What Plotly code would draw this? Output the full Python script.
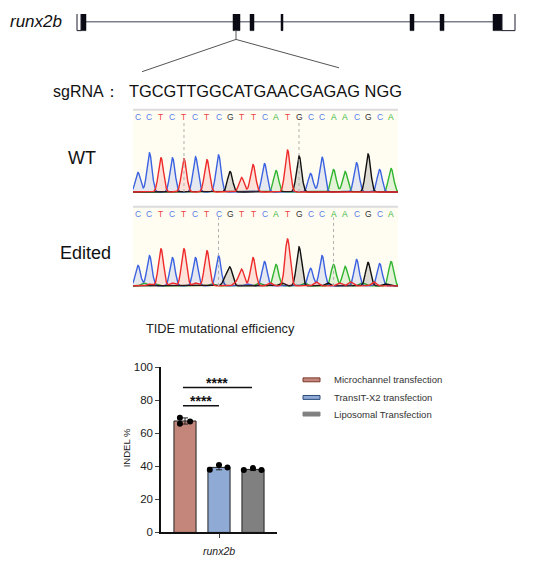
import numpy as np
import plotly.graph_objects as go

# gene structure (x in pixel-like units along the locus)
gene_name = "runx2b"
intron_span = [81, 502]
exons = [[81, 86], [233, 240], [250, 254], [281, 283], [410, 414], [440, 444], [493, 502]]
utrs = [[77, 81], [502, 515]]
target_exon = 236
sgrna = "TGCGTTGGCATGAACGAGAG NGG"

# chromatogram reads
bases = "CCTCTCTCGTTCATGCCAACGCA"
wt_heights = [20, 40, 35, 35, 34, 36, 33, 38, 21, 15, 28, 29, 22, 43, 37, 19, 36, 23, 21, 30, 39, 23, 24]
ed_heights = [21, 31, 38, 29, 38, 29, 36, 31, 18, 17, 29, 25, 22, 48, 40, 18, 31, 22, 20, 27, 24, 23, 25]
ed_secondary = [(0.5, "A", 3), (1.5, "A", 2), (1.0, "T", 2), (3.0, "T", 3), (5.0, "T", 3),
                (6.4, "A", 2), (7.6, "G", 7), (8.5, "T", 3), (9.5, "C", 2), (10.5, "A", 3),
                (11.5, "T", 3), (12.5, "G", 3), (14.5, "A", 3), (15.5, "T", 4), (16.5, "G", 3),
                (17.5, "T", 3), (18.5, "T", 4), (19.5, "A", 3), (20.5, "T", 4), (21.5, "G", 2)]
wt_marks = [4, 14]
ed_marks = [7, 17]

# TIDE efficiency
groups = ["Microchannel transfection", "TransIT-X2 transfection", "Liposomal Transfection"]
indel_points = [[69.4, 65.7, 67.1], [37.9, 40.8, 39.3], [37.7, 38.9, 37.7]]

base_col = {"A": "#2fb52f", "C": "#3b62e0", "G": "#111111", "T": "#ee2b2b"}
base_fill = {"A": "rgba(47,181,47,0.13)", "C": "rgba(59,98,224,0.13)",
             "G": "rgba(0,0,0,0.13)", "T": "rgba(238,43,43,0.12)"}
letter_col = {"A": "#39b839", "C": "#5b7fe8", "G": "#333333", "T": "#ee4040"}
bar_cols = ["#c4867b", "#8eaad5", "#808080"]
leg_lines = ["#7a3a30", "#2c4a7a", "#808080"]
FONT = "Arial, Liberation Sans, sans-serif"

# page has an 8px body margin, so the figure is shrunk and shifted to line up
OX, OY = 8, 8
W, H = 534, 549


def px(p):
    return (p - OX) / W


def py(p):
    return 1 - (p - OY) / H


def label(x, y, text, size, xanchor="center", color="#111", **kw):
    return dict(xref="paper", yref="paper", x=px(x), y=py(y), text=text, showarrow=False,
                xanchor=xanchor, yanchor="middle", font=dict(size=size, color=color, family=FONT), **kw)


fig = go.Figure()

# ---- chromatograms ----
xs = np.linspace(-0.45, 22.6, 1400)
sig = 0.22


def add_read(heights, extra, xa, ya):
    for b in "ACGT":
        y = np.zeros_like(xs)
        for i, ch in enumerate(bases):
            if ch == b:
                y += heights[i] * np.exp(-0.5 * ((xs - i) / sig) ** 2)
        for pos, ch, h in extra:
            if ch == b:
                y += h * np.exp(-0.5 * ((xs - pos) / sig) ** 2)
        fig.add_trace(go.Scatter(x=xs, y=y, mode="lines", line=dict(color=base_col[b], width=1.4),
                                 fill="tozeroy", fillcolor=base_fill[b], hoverinfo="skip",
                                 showlegend=False, xaxis=xa, yaxis=ya))


add_read(wt_heights, [], "x2", "y2")
add_read(ed_heights, ed_secondary, "x3", "y3")

# ---- bar chart ----
means = [float(np.mean(p)) for p in indel_points]
sds = [float(np.std(p, ddof=1)) for p in indel_points]
fig.add_trace(go.Bar(x=[0, 1, 2], y=means, width=0.65, marker=dict(color=bar_cols, line=dict(color="#222", width=1)),
                     error_y=dict(type="data", array=sds, color="#222", thickness=1, width=3),
                     showlegend=False, xaxis="x4", yaxis="y4"))
jit = [[-0.15, -0.15, 0.15], [-0.27, 0, 0.25], [-0.27, 0, 0.25]]
for g in range(3):
    fig.add_trace(go.Scatter(x=[g + j for j in jit[g]], y=indel_points[g], mode="markers",
                             marker=dict(color="black", size=6), showlegend=False, xaxis="x4", yaxis="y4"))

shapes = []
annotations = []

# ---- gene diagram ----
shapes.append(dict(type="line", xref="x", yref="y", x0=intron_span[0], x1=intron_span[1], y0=16, y1=16,
                   line=dict(color="#3a4050", width=1)))
for a, b in exons:
    shapes.append(dict(type="rect", xref="x", yref="y", x0=a, x1=b, y0=7, y1=25,
                       fillcolor="#0a0a14", line=dict(color="#0a0a14", width=0.5)))
for a, b in utrs:
    shapes.append(dict(type="rect", xref="x", yref="y", x0=a, x1=b, y0=7, y1=25,
                       fillcolor="white", line=dict(color="#1a1a2a", width=1)))
shapes.append(dict(type="line", xref="x", yref="y", x0=target_exon, x1=target_exon, y0=25, y1=34,
                   line=dict(color="#555", width=1)))
shapes.append(dict(type="line", xref="x", yref="y", x0=target_exon, x1=142, y0=34, y1=67,
                   line=dict(color="#555", width=1)))
shapes.append(dict(type="line", xref="x", yref="y", x0=target_exon, x1=339, y0=34, y1=63,
                   line=dict(color="#555", width=1)))
annotations.append(label(8, 16, "<i>" + gene_name + "</i>", 17, xanchor="left"))
annotations.append(label(51, 87, "sgRNA：", 16, xanchor="left"))
annotations.append(label(127, 87, sgrna, 16.4, xanchor="left"))

# ---- chromatogram panels ----
for xa, ya, top, marks in [("x2", "y2", 77, wt_marks), ("x3", "y3", 74, ed_marks)]:
    shapes.append(dict(type="rect", xref=xa + " domain", yref=ya + " domain", x0=0, x1=1, y0=0, y1=1,
                       fillcolor="#fffcf2", line=dict(width=0), layer="below"))
    shapes.append(dict(type="line", xref=xa + " domain", yref=ya + " domain", x0=0, x1=1, y0=1, y1=1,
                       line=dict(color="#dcdcdc", width=2)))
    for m in marks:
        shapes.append(dict(type="line", xref=xa, yref=ya, x0=m, x1=m, y0=0, y1=top - 4,
                           line=dict(color="#b0b0b0", width=1, dash="dot")))
    for i, ch in enumerate(bases):
        annotations.append(dict(xref=xa, yref=ya, x=i, y=top, text=ch, showarrow=False,
                                xanchor="center", yanchor="middle",
                                font=dict(size=8.5, color=letter_col[ch], family=FONT)))

annotations.append(label(82, 155, "WT", 18))
annotations.append(label(85, 252, "Edited", 18))

# ---- bar chart decorations ----
annotations.append(label(144, 330, "TIDE mutational efficiency", 12.8, xanchor="left", color="#222"))
annotations.append(label(126, 452, "INDEL %", 9.5, color="#222", textangle=-90))
for x0, x1, yl, ys in [(-0.06, 1.97, 87.6, 90.5), (-0.06, 1.0, 76.7, 79.5)]:
    shapes.append(dict(type="line", xref="x4", yref="y4", x0=x0, x1=x1, y0=yl, y1=yl,
                       line=dict(color="#111", width=1.5)))
    annotations.append(dict(xref="x4", yref="y4", x=(x0 + x1) / 2, y=ys, text="<b>****</b>", showarrow=False,
                            xanchor="center", yanchor="middle", font=dict(size=14, color="#111", family=FONT)))
for k, name in enumerate(groups):
    yc = [382, 400, 417][k]
    shapes.append(dict(type="rect", xref="paper", yref="paper", x0=px(303), x1=px(320),
                       y0=py(yc + 2), y1=py(yc - 2), fillcolor=bar_cols[k],
                       line=dict(color=leg_lines[k], width=1)))
    annotations.append(label(332, yc, name, 9.5, xanchor="left", color="#333"))

hidden = dict(visible=False, fixedrange=True)
fig.update_layout(
    width=W, height=H, margin=dict(l=0, r=0, t=0, b=0),
    paper_bgcolor="white", plot_bgcolor="rgba(0,0,0,0)",
    font=dict(family=FONT, color="#222"),
    xaxis=dict(domain=[0, 1], range=[OX, OX + W], **hidden),
    yaxis=dict(domain=[py(100), 1], range=[100, OY], **hidden),
    xaxis2=dict(domain=[px(133), px(398)], range=[-0.43, 22.6], anchor="y2", **hidden),
    yaxis2=dict(domain=[py(191), py(106)], range=[-1, 84], anchor="x2", **hidden),
    xaxis3=dict(domain=[px(133), px(398)], range=[-0.43, 22.6], anchor="y3", **hidden),
    yaxis3=dict(domain=[py(289), py(205)], range=[-3, 81], anchor="x3", **hidden),
    xaxis4=dict(domain=[px(161), px(277)], range=[-0.706, 2.706], anchor="y4",
                tickvals=[1], ticktext=["<i>runx2b</i>"], ticks="outside", ticklen=4,
                ticklabelstandoff=4,
                showline=True, linecolor="#111", linewidth=1.5, showgrid=False, zeroline=False,
                tickfont=dict(size=10.5, color="#222"), fixedrange=True),
    yaxis4=dict(domain=[py(538), py(369)], range=[0, 100], anchor="x4",
                tickvals=[0, 20, 40, 60, 80, 100], ticks="outside", ticklen=4,
                showline=True, linecolor="#111", linewidth=1.5, showgrid=False, zeroline=False,
                tickfont=dict(size=11.5, color="#222"), fixedrange=True),
    shapes=shapes, annotations=annotations,
)

fig.write_html("out.html")
